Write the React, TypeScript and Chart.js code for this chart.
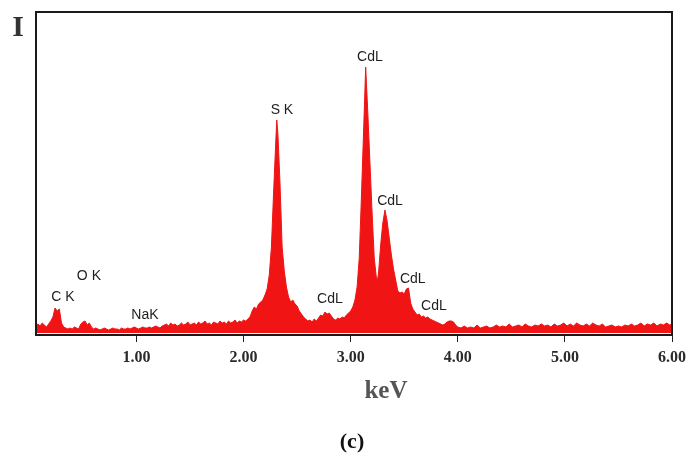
import React, { useEffect, useRef } from 'react';
import { Chart, registerables } from 'chart.js';

Chart.register(...registerables);

// Energy channels (keV)
const energyKeV = [
  0.06,0.08,0.10,0.12,0.14,0.16,0.18,0.20,0.22,0.24,
  0.26,0.28,0.30,0.32,0.34,0.36,0.38,0.40,0.42,0.44,
  0.46,0.48,0.50,0.52,0.54,0.56,0.58,0.60,0.62,0.64,
  0.66,0.68,0.70,0.72,0.74,0.76,0.78,0.80,0.82,0.84,
  0.86,0.88,0.90,0.92,0.94,0.96,0.98,1.00,1.02,1.04,
  1.06,1.08,1.10,1.12,1.14,1.16,1.18,1.20,1.22,1.24,
  1.26,1.28,1.30,1.32,1.34,1.36,1.38,1.40,1.42,1.44,
  1.46,1.48,1.50,1.52,1.54,1.56,1.58,1.60,1.62,1.64,
  1.66,1.68,1.70,1.72,1.74,1.76,1.78,1.80,1.82,1.84,
  1.86,1.88,1.90,1.92,1.94,1.96,1.98,2.00,
  2.02,2.04,2.06,2.08,2.10,2.12,2.14,2.16,2.18,2.20,
  2.22,2.24,2.26,2.28,2.30,2.31,2.32,2.34,2.36,2.38,
  2.40,2.42,2.44,2.46,2.48,2.50,2.52,2.54,2.56,2.58,
  2.60,2.62,2.64,2.66,2.68,2.70,2.72,2.74,2.76,2.78,
  2.80,2.82,2.84,2.86,2.88,2.90,2.92,2.94,2.96,2.98,
  3.00,3.02,3.04,3.06,3.08,3.10,3.12,3.14,3.16,3.18,
  3.20,3.22,3.24,3.25,3.26,3.28,3.30,3.32,3.34,3.36,
  3.38,3.40,3.42,3.44,3.46,3.48,3.50,3.52,3.54,3.56,
  3.58,3.60,3.62,3.64,3.66,3.68,3.70,3.72,3.74,3.76,
  3.78,3.80,3.82,3.84,3.86,3.88,3.90,3.92,3.94,3.96,
  3.98,4.00,
  4.03,4.06,4.09,4.12,4.15,4.18,4.21,4.24,4.27,4.30,
  4.33,4.36,4.39,4.42,4.45,4.48,4.51,4.54,4.57,4.60,
  4.63,4.66,4.69,4.72,4.75,4.78,4.81,4.84,4.87,4.90,
  4.93,4.96,4.99,5.02,5.05,5.08,5.11,5.14,5.17,5.20,
  5.23,5.26,5.29,5.32,5.35,5.38,5.41,5.44,5.47,5.50,
  5.53,5.56,5.59,5.62,5.65,5.68,5.71,5.74,5.77,5.80,
  5.83,5.86,5.89,5.92,5.95,5.98,6.00,
];

// Intensity (counts, arbitrary units)
const counts = [
  6,9,7,10,8,6,9,12,16,25,
  22,24,10,6,5,4,5,4,6,5,
  4,9,11,12,8,10,6,4,5,4,
  3,4,5,4,3,4,5,4,4,3,
  5,4,4,5,4,5,6,5,4,5,
  6,5,5,6,5,6,7,6,5,7,
  8,9,7,10,8,9,7,8,10,8,
  9,11,8,9,10,8,11,9,10,12,
  9,10,8,11,10,9,12,10,11,9,
  12,10,11,13,10,12,11,13,
  12,14,16,22,26,24,29,31,33,38,
  44,58,86,140,190,213,200,150,86,62,
  46,36,31,33,29,27,22,19,16,14,
  12,13,11,14,12,15,18,17,21,19,
  20,17,14,13,15,14,16,15,18,20,
  22,26,33,46,75,135,200,266,220,170,
  120,75,55,53,60,88,110,123,112,95,
  78,64,53,42,40,41,39,44,45,30,
  24,21,18,19,16,17,15,16,14,13,
  12,11,10,9,8,9,11,12,12,11,
  8,6,
  5,7,5,6,5,8,5,6,7,5,
  6,8,6,7,6,9,6,7,8,6,
  9,7,6,8,7,9,7,8,6,9,
  7,8,10,7,9,7,10,8,7,9,
  7,10,8,7,9,6,7,8,6,7,
  6,8,7,9,7,8,10,7,9,8,
  10,7,9,8,10,8,9,
];

// Peak labels
const peakLabelText = ['C K', 'O K', 'NaK', 'S K', 'CdL', 'CdL', 'CdL', 'CdL', 'CdL'];
const peakLabelKeV = [0.314, 0.556, 1.079, 2.358, 2.806, 3.18, 3.367, 3.58, 3.777];
const peakLabelI = [36, 57, 18, 223, 34, 276, 132, 54, 27];

const xMin = 0.062;
const xMax = 6.0;
const yMin = -2;
const yMax = 321;

const RED = '#f01414';

const boxAndLabels = {
  id: 'boxAndLabels',
  afterDatasetsDraw(chart: any) {
    const { ctx, chartArea, scales } = chart;
    ctx.save();
    ctx.font = '14px "Liberation Sans", Arial, sans-serif';
    ctx.fillStyle = '#1e1e1e';
    ctx.textAlign = 'center';
    ctx.textBaseline = 'middle';
    for (let i = 0; i < peakLabelText.length; i++) {
      const px = scales.x.getPixelForValue(peakLabelKeV[i]);
      const py = scales.y.getPixelForValue(peakLabelI[i]);
      ctx.fillText(peakLabelText[i], px, py);
    }
    ctx.strokeStyle = '#1a1a1a';
    ctx.lineWidth = 2;
    ctx.strokeRect(chartArea.left, chartArea.top, chartArea.right - chartArea.left, chartArea.bottom - chartArea.top);
    ctx.restore();
  },
};

export default function App() {
  const canvasRef = useRef<HTMLCanvasElement | null>(null);

  useEffect(() => {
    if (!canvasRef.current) return;
    const points = energyKeV.map((e, i) => ({ x: e, y: counts[i] }));
    const chart = new Chart(canvasRef.current, {
      type: 'line',
      data: {
        datasets: [
          {
            data: points,
            borderColor: RED,
            backgroundColor: RED,
            borderWidth: 1,
            pointRadius: 0,
            tension: 0,
            fill: 'origin',
          },
        ],
      },
      options: {
        responsive: false,
        animation: false,
        events: [],
        layout: { padding: { left: 36, right: 23, top: 12, bottom: 0 } },
        plugins: { legend: { display: false }, tooltip: { enabled: false }, title: { display: false } },
        scales: {
          x: {
            type: 'linear',
            min: xMin,
            max: xMax,
            border: { display: false },
            grid: { display: true, drawOnChartArea: false, drawTicks: true, tickLength: 7, color: '#222', lineWidth: 1 },
            ticks: {
              stepSize: 1,
              includeBounds: false,
              maxRotation: 0,
              padding: 6,
              color: '#2a2a2a',
              font: { family: '"Liberation Serif", "Times New Roman", serif', size: 16, weight: 'bold' },
              callback: (v: any) => Number(v).toFixed(2),
            },
            afterFit: (scale: any) => {
              scale.height = 118;
            },
          },
          y: {
            display: false,
            min: yMin,
            max: yMax,
          },
        },
      },
      plugins: [boxAndLabels],
    });
    return () => chart.destroy();
  }, []);

  return (
    <div style={{ position: 'absolute', left: 0, top: 0, width: 695, height: 453, background: '#fff' }}>
      <canvas ref={canvasRef} width={695} height={453} style={{ position: 'absolute', left: 0, top: 0, width: 695, height: 453 }} />
      <div style={{ position: 'absolute', left: 18, top: 11, transform: 'translateX(-50%)', fontFamily: '"Liberation Serif", serif', fontWeight: 'bold', fontSize: 30, lineHeight: 1, color: '#333' }}>I</div>
      <div style={{ position: 'absolute', left: 386, top: 377, transform: 'translateX(-50%)', fontFamily: '"Liberation Serif", serif', fontWeight: 'bold', fontSize: 25, lineHeight: 1, color: '#555' }}>keV</div>
      <div style={{ position: 'absolute', left: 352, top: 430, transform: 'translateX(-50%)', fontFamily: '"Liberation Serif", serif', fontWeight: 'bold', fontSize: 22, lineHeight: 1, color: '#111' }}>(c)</div>
    </div>
  );
}
